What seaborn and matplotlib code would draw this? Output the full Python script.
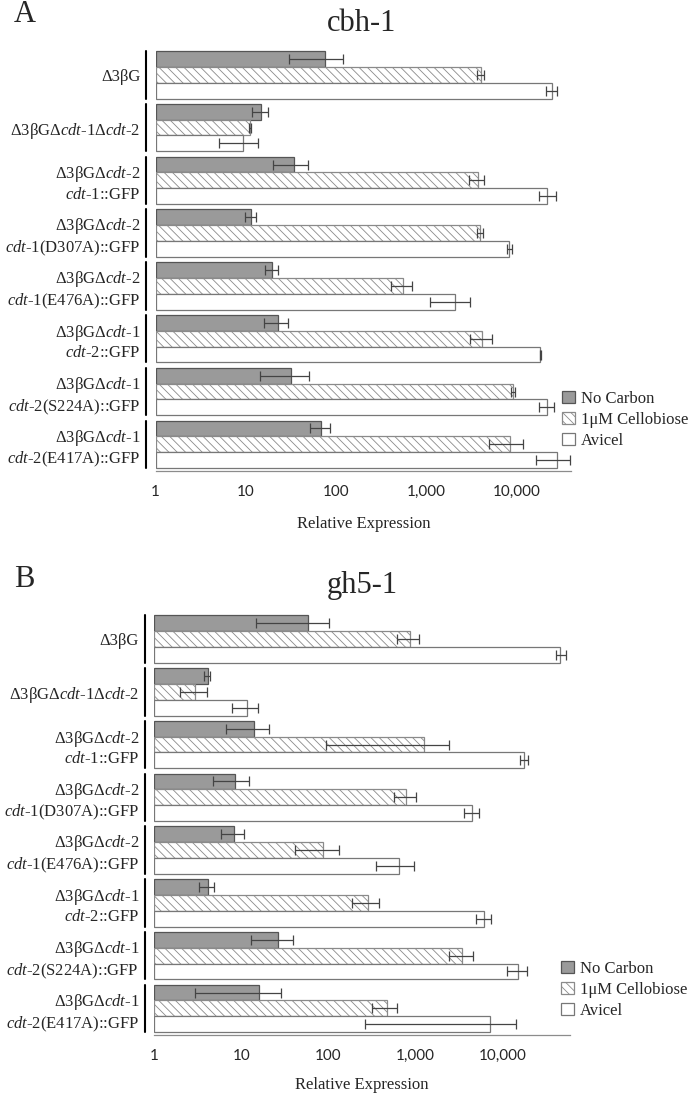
import matplotlib
matplotlib.use("Agg")
import matplotlib.pyplot as plt
import matplotlib.transforms as mtransforms
from matplotlib.ticker import FixedLocator, FixedFormatter, LogLocator, NullFormatter
import seaborn as sns
import pandas as pd
import numpy as np

# ---------------------------------------------------------------------------
# Data (log scale)
# ---------------------------------------------------------------------------
strains = [
    "Δ3βG",
    "Δ3βGΔ$\\mathit{cdt}$-$\\mathit{1}$Δ$\\mathit{cdt}$-$\\mathit{2}$",
    "Δ3βGΔ$\\mathit{cdt}$-$\\mathit{2}$\n$\\mathit{cdt}$-$\\mathit{1}$::GFP",
    "Δ3βGΔ$\\mathit{cdt}$-$\\mathit{2}$\n$\\mathit{cdt}$-$\\mathit{1}$(D307A)::GFP",
    "Δ3βGΔ$\\mathit{cdt}$-$\\mathit{2}$\n$\\mathit{cdt}$-$\\mathit{1}$(E476A)::GFP",
    "Δ3βGΔ$\\mathit{cdt}$-$\\mathit{1}$\n$\\mathit{cdt}$-$\\mathit{2}$::GFP",
    "Δ3βGΔ$\\mathit{cdt}$-$\\mathit{1}$\n$\\mathit{cdt}$-$\\mathit{2}$(S224A)::GFP",
    "Δ3βGΔ$\\mathit{cdt}$-$\\mathit{1}$\n$\\mathit{cdt}$-$\\mathit{2}$(E417A)::GFP",
]
conditions = ["No Carbon", "1μM Cellobiose", "Avicel"]

# cbh-1
cbh_nc = [75, 14.7, 33.8, 11.4, 19.4, 22.5, 31.6, 67.5]
cbh_nc_lo = [30, 11.8, 19.8, 9.7, 16.1, 16, 14.2, 51.8]
cbh_nc_hi = [118, 17.4, 48.8, 13, 22.7, 29, 49.6, 84.9]
cbh_cb = [4000, 11.2, 3690, 3880, 550, 4150, 9180, 8500]
cbh_cb_lo = [3630, 10.8, 2980, 3590, 408, 3030, 8650, 4960]
cbh_cb_hi = [4300, 11.5, 4360, 4220, 699, 5270, 9660, 11800]
cbh_av = [24700, 9.3, 21700, 8280, 2080, 18300, 21700, 27800]
cbh_av_lo = [21000, 5.05, 17800, 7800, 1096, 18000, 17500, 16400]
cbh_av_hi = [28000, 13.5, 27400, 8800, 3050, 18600, 26000, 39000]

# gh5-1
gh5_nc = [58.2, 4.1, 13.9, 8.55, 8.19, 4.1, 26.3, 15.9]
gh5_nc_lo = [14.9, 3.76, 6.69, 4.7, 5.9, 3.3, 12.9, 2.97]
gh5_nc_hi = [102, 4.37, 20.9, 12.4, 10.6, 4.9, 39.8, 28.5]
gh5_cb = [860, 2.97, 1250, 773, 85.8, 283, 3440, 468]
gh5_cb_lo = [615, 1.98, 93.8, 569, 41.6, 185, 2420, 318]
gh5_cb_hi = [1090, 4.0, 2420, 1008, 131, 382, 4570, 615]
gh5_av = [46600, 11.7, 17600, 4530, 649, 6220, 15300, 7160]
gh5_av_lo = [41800, 7.78, 15900, 3630, 349, 4940, 11300, 266]
gh5_av_hi = [53300, 15.7, 19600, 5450, 956, 7350, 19300, 14200]

xticks = [1, 10, 100, 1000, 10000]
xtick_labels = ["1", "10", "100", "1,000", "10,000"]

# ---------------------------------------------------------------------------
# Style
# ---------------------------------------------------------------------------
sns.set_style("white")
plt.rcParams.update({
    "font.family": ["Liberation Serif", "DejaVu Serif"],
    "mathtext.fontset": "custom",
    "mathtext.rm": "Liberation Serif",
    "mathtext.it": "Liberation Serif:italic",
    "hatch.linewidth": 0.6,
})

FILLS = {"No Carbon": "#9a9a9a", "1μM Cellobiose": "white", "Avicel": "white"}
EDGES = ["#555555", "#8a8a8a", "#777777"]
AXIS_GRAY = "#8c8c8c"

W, H = 693, 1097
fig = plt.figure(figsize=(W / 100, H / 100), dpi=100)


def panel(rect, nc, cb, av, lows, highs, xmax, title, letter, title_y, letter_y,
          legend_xy, xlabel_y):
    ax = fig.add_axes(rect)
    df = pd.DataFrame({
        "strain": strains * 3,
        "condition": np.repeat(conditions, len(strains)),
        "value": list(nc) + list(cb) + list(av),
    })
    sns.barplot(data=df, y="strain", x="value", hue="condition",
                hue_order=conditions, palette=FILLS, orient="h", width=0.9,
                errorbar=None, legend=False, linewidth=0.9, edgecolor="#666666",
                ax=ax)
    ax.set_xscale("log")
    bars = list(ax.containers)

    # bars start at the axis minimum so the left edges are drawn
    for k, cont in enumerate(bars):
        for p in cont.patches:
            end = p.get_x() + p.get_width()
            p.set_x(1)
            p.set_width(end - 1)
            p.set_edgecolor(EDGES[k])
        if k == 1:
            for p in cont.patches:
                p.set_hatch("\\\\\\\\")

    # error bars
    series = [nc, cb, av]
    for k, cont in enumerate(bars):
        vals = np.array(series[k], dtype=float)
        lo = np.array(lows[k], dtype=float)
        hi = np.array(highs[k], dtype=float)
        ys = [p.get_y() + p.get_height() / 2 for p in cont.patches]
        ax.errorbar(vals, ys, xerr=[vals - lo, hi - vals], fmt="none",
                    ecolor="#444444", elinewidth=0.9, capsize=3.5,
                    capthick=0.9, zorder=5)

    ax.set_xlim(1, xmax)
    ax.set_ylim(len(strains) - 0.5, -0.5)

    ax.xaxis.set_major_locator(FixedLocator(xticks))
    ax.xaxis.set_major_formatter(FixedFormatter(xtick_labels))
    ax.xaxis.set_minor_locator(LogLocator(base=10, subs=np.arange(2, 10)))
    ax.xaxis.set_minor_formatter(NullFormatter())
    ax.tick_params(axis="x", which="major", direction="out", length=5,
                   width=0.8, color=AXIS_GRAY, pad=5, labelsize=11)
    ax.tick_params(axis="x", which="minor", direction="out", length=2.5,
                   width=0.8, color=AXIS_GRAY)
    for t in ax.get_xticklabels():
        t.set_fontfamily("Lato")

    ax.tick_params(axis="y", length=0, pad=11, labelsize=12)
    for t in ax.get_yticklabels():
        t.set_fontfamily("Liberation Serif")
    ax.set_ylabel("")
    ax.set_xlabel("Relative Expression", fontsize=12)
    ax.xaxis.set_label_coords(0.5, xlabel_y)
    ax.xaxis.label.set_va("center")

    for s in ["top", "right", "left"]:
        ax.spines[s].set_visible(False)
    ax.spines["bottom"].set_color(AXIS_GRAY)
    ax.spines["bottom"].set_linewidth(0.9)

    # group brackets left of the bars
    trans = mtransforms.blended_transform_factory(ax.transAxes, ax.transData)
    for i in range(len(strains)):
        ax.plot([-0.0235, -0.0235], [i - 0.45, i + 0.45], color="black",
                lw=1.5, transform=trans, clip_on=False)

    ax.legend(handles=bars, labels=conditions, loc="upper left",
              bbox_to_anchor=legend_xy, bbox_transform=fig.transFigure,
              frameon=False, fontsize=12, borderpad=0, borderaxespad=0,
              handlelength=0.8, handleheight=0.75, handletextpad=0.35,
              labelspacing=0.3)

    fig.text(362 / W, 1 - title_y / H, title, ha="center", va="baseline",
             fontsize=22)
    fig.text(14 / W, 1 - letter_y / H, letter, ha="left", va="baseline",
             fontsize=22)
    return ax


panel([155.7 / W, 1 - 470.7 / H, 415.3 / W, 422.3 / H],
      cbh_nc, cbh_cb, cbh_av,
      [cbh_nc_lo, cbh_cb_lo, cbh_av_lo], [cbh_nc_hi, cbh_cb_hi, cbh_av_hi],
      40000, "cbh-1", "A", 31, 22, (562 / W, 1 - 391 / H), -0.127)

panel([154.3 / W, 1 - 1034.8 / H, 415.7 / W, 422.2 / H],
      gh5_nc, gh5_cb, gh5_av,
      [gh5_nc_lo, gh5_cb_lo, gh5_av_lo], [gh5_nc_hi, gh5_cb_hi, gh5_av_hi],
      60000, "gh5-1", "B", 593, 587, (561 / W, 1 - 961 / H), -0.118)

fig.savefig("out.png", dpi=100)
